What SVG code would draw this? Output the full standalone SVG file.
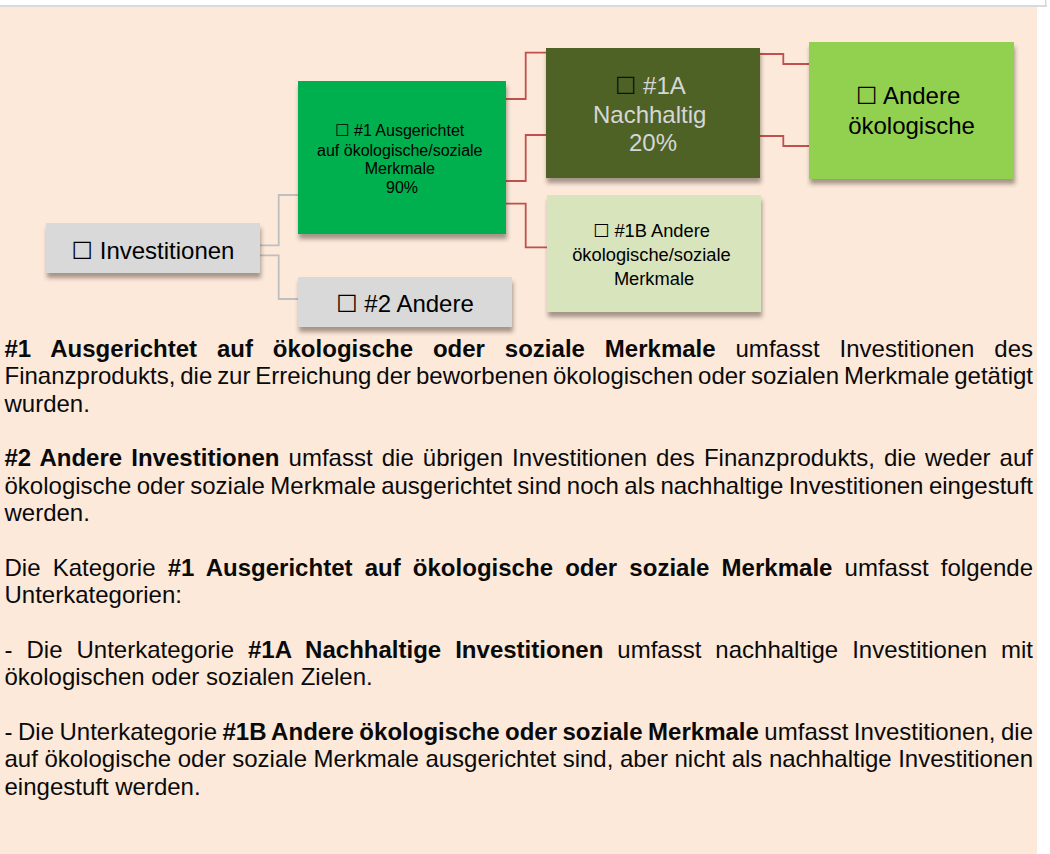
<svg xmlns="http://www.w3.org/2000/svg" width="1050" height="854" viewBox="0 0 1050 854">
<defs>
<filter id="sh" x="-5%" y="-5%" width="115%" height="125%">
<feDropShadow dx="1" dy="5" stdDeviation="2" flood-color="#3a2f28" flood-opacity="0.45"/>
</filter>
<style>
.t{font-family:"Liberation Sans",Arial,"DejaVu Sans",sans-serif;}
.bx{font-family:"Noto Sans CJK SC","DejaVu Sans",sans-serif;}
.body{font-size:24px;fill:#0a0a0a;}
.b{font-weight:bold;}
.n24{font-size:24px;text-anchor:middle;}
.red{fill:none;stroke:#C0504D;stroke-width:1.8;}
.gray{fill:none;stroke:#BFBFBF;stroke-width:1.8;}
</style>
</defs>
<rect x="0" y="0" width="1050" height="854" fill="#FFFFFF"/>
<rect x="0" y="7" width="1037" height="847" fill="#FCE9DA"/>
<rect x="0" y="5" width="1047" height="2" fill="#DADADA"/>
<rect x="1045" y="0" width="1.5" height="7" fill="#DADADA"/>

<g id="connectors">
<path class="gray" d="M260,245.3 H278.7 V195 H298"/>
<path class="gray" d="M260,255.3 H278.7 V299 H298"/>
<path class="red" d="M506,99 H525.7 V52.7 H546"/>
<path class="red" d="M506,181 H525.7 V135 H546"/>
<path class="red" d="M506,203.7 H525.7 V247.3 H547"/>
<path class="red" d="M760,54 H783.3 V64 H809"/>
<path class="red" d="M760,136 H783.3 V146 H809"/>
</g>

<g id="node-investitionen">
<rect x="46" y="223" width="214" height="50" fill="#D9D9D9" filter="url(#sh)"/>
<text class="t n24" x="153" y="259" fill="#000"><tspan class="bx">☐</tspan> Investitionen</text>
</g>

<g id="node-1">
<rect x="298" y="81" width="208" height="153" fill="#00B050" filter="url(#sh)"/>
<text class="t" font-size="16" text-anchor="middle" fill="#000">
<tspan x="402" y="136.3"><tspan class="bx">☐</tspan> #1 Ausgerichtet</tspan>
<tspan x="402" y="155.6">auf ökologische/soziale</tspan>
<tspan x="402" y="174">Merkmale</tspan>
<tspan x="402" y="192.6">90%</tspan>
</text>
</g>

<g id="node-2">
<rect x="298" y="277" width="214" height="50" fill="#D9D9D9" filter="url(#sh)"/>
<text class="t n24" x="405" y="312" fill="#000"><tspan class="bx">☐</tspan> #2 Andere</text>
</g>

<g id="node-1a">
<rect x="546" y="48" width="214" height="130" fill="#4F6228" filter="url(#sh)"/>
<text class="t n24" fill="#D6D6D6">
<tspan x="653" y="94"><tspan class="bx" fill="#111">☐</tspan> #1A</tspan>
<tspan x="653" y="122.5">Nachhaltig</tspan>
<tspan x="653" y="150.7">20%</tspan>
</text>
</g>

<g id="node-andere-oekologische">
<rect x="809" y="42" width="205" height="137" fill="#92D050" filter="url(#sh)"/>
<text class="t n24" fill="#000">
<tspan x="911.5" y="104"><tspan class="bx">☐</tspan> Andere</tspan>
<tspan x="911.5" y="134">ökologische</tspan>
</text>
</g>

<g id="node-1b">
<rect x="547" y="195" width="214" height="117" fill="#D8E4BC" filter="url(#sh)"/>
<text class="t" font-size="18.3" text-anchor="middle" fill="#000">
<tspan x="654" y="236.5"><tspan class="bx">☐</tspan> #1B Andere</tspan>
<tspan x="654" y="260.5">ökologische/soziale</tspan>
<tspan x="654" y="284.5">Merkmale</tspan>
</text>
</g>

<g id="body-text">
<text class="t body" x="4.5" y="357" word-spacing="13.15" textLength="1028.5" lengthAdjust="spacing"><tspan class="b">#1 Ausgerichtet auf ökologische oder soziale Merkmale</tspan> umfasst Investitionen des</text>
<text class="t body" x="4.5" y="384.35" word-spacing="-1.78" textLength="1028.5" lengthAdjust="spacing">Finanzprodukts, die zur Erreichung der beworbenen ökologischen oder sozialen Merkmale getätigt</text>
<text class="t body" x="4.5" y="411.7">wurden.</text>

<text class="t body" x="4.5" y="466.4" word-spacing="2.41" textLength="1028.5" lengthAdjust="spacing"><tspan class="b">#2 Andere Investitionen</tspan> umfasst die übrigen Investitionen des Finanzprodukts, die weder auf</text>
<text class="t body" x="4.5" y="493.75" word-spacing="-1.25" textLength="1028.5" lengthAdjust="spacing">ökologische oder soziale Merkmale ausgerichtet sind noch als nachhaltige Investitionen eingestuft</text>
<text class="t body" x="4.5" y="521.1">werden.</text>

<text class="t body" x="4.5" y="575.8" word-spacing="5.43" textLength="1028.5" lengthAdjust="spacing">Die Kategorie <tspan class="b">#1 Ausgerichtet auf ökologische oder soziale Merkmale</tspan> umfasst folgende</text>
<text class="t body" x="4.5" y="603.15">Unterkategorien:</text>

<text class="t body" x="4.5" y="657.85" word-spacing="7.25" textLength="1028.5" lengthAdjust="spacing">- Die Unterkategorie <tspan class="b">#1A Nachhaltige Investitionen</tspan> umfasst nachhaltige Investitionen mit</text>
<text class="t body" x="4.5" y="685.2">ökologischen oder sozialen Zielen.</text>

<text class="t body" x="4.5" y="739.9" word-spacing="-1.25" textLength="1028.5" lengthAdjust="spacing">- Die Unterkategorie <tspan class="b">#1B Andere ökologische oder soziale Merkmale</tspan> umfasst Investitionen, die</text>
<text class="t body" x="4.5" y="767.25" word-spacing="-0.16" textLength="1028.5" lengthAdjust="spacing">auf ökologische oder soziale Merkmale ausgerichtet sind, aber nicht als nachhaltige Investitionen</text>
<text class="t body" x="4.5" y="794.6">eingestuft werden.</text>
</g>
</svg>
